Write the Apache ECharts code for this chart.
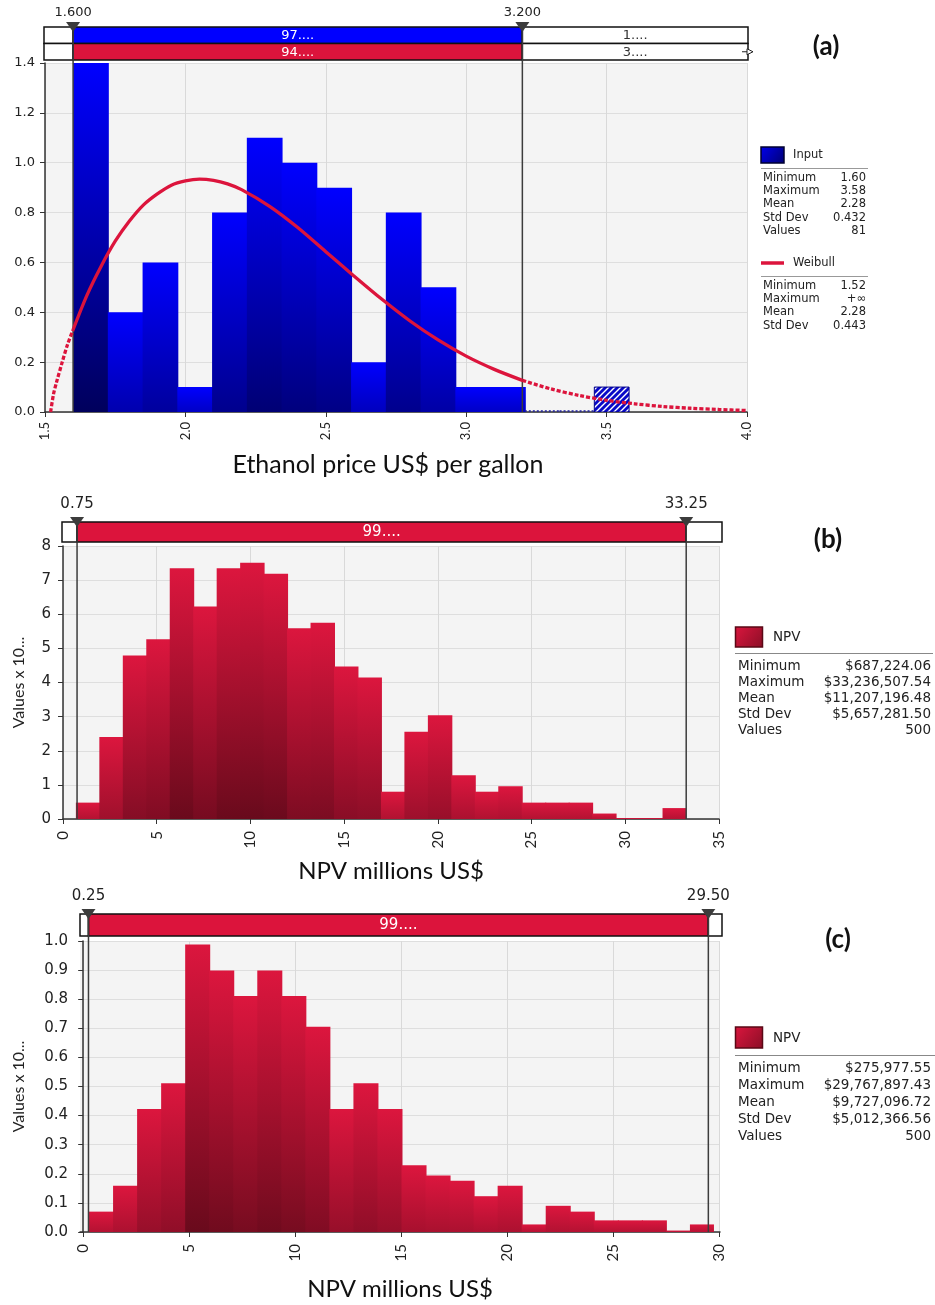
<!DOCTYPE html>
<html>
<head>
<meta charset="utf-8">
<style>html,body{margin:0;padding:0;background:#fff}#chart{width:935px;height:1305px}</style>
<script src="https://cdn.jsdelivr.net/npm/echarts@6.0.0/dist/echarts.min.js"></script>
</head>
<body>
<div id="chart"></div>
<script>
// ================= DATA =================
// Panel (a): ethanol price histogram (density) + Weibull fit
const priceTicks = [1.5, 2.0, 2.5, 3.0, 3.5, 4.0];
const priceBinStart = 1.6;
const priceBinWidth = 0.12375;
const priceDensity = [1.4, 0.4, 0.6, 0.1, 0.8, 1.1, 1.0, 0.9, 0.2, 0.8, 0.5, 0.1, 0.1, 0, 0, 0.1];
const weibullX = [1.52, 1.53, 1.54, 1.56, 1.58, 1.60, 1.65, 1.70, 1.75, 1.80, 1.85, 1.90, 1.95, 2.00, 2.05, 2.10, 2.15, 2.20, 2.30, 2.40, 2.50, 2.60, 2.70, 2.80, 2.90, 3.00, 3.10, 3.20, 3.30, 3.40, 3.50, 3.60, 3.70, 3.80, 3.90, 4.00];
const weibullY = [0, 0.07, 0.115, 0.195, 0.27, 0.33, 0.47, 0.585, 0.685, 0.765, 0.83, 0.875, 0.91, 0.927, 0.934, 0.929, 0.915, 0.892, 0.825, 0.74, 0.643, 0.546, 0.452, 0.365, 0.289, 0.224, 0.171, 0.127, 0.093, 0.067, 0.047, 0.033, 0.022, 0.015, 0.010, 0.006];
const priceSplits = [1.6, 3.2];
const priceSplitLabels = ['1.600', '3.200'];
const priceInputPct = ['', '97....', '1....'];
const priceFitPct = ['', '94....', '3....'];
const inputStatLabels = ['Minimum', 'Maximum', 'Mean', 'Std Dev', 'Values'];
const inputStatValues = ['1.60', '3.58', '2.28', '0.432', '81'];
const weibullStatLabels = ['Minimum', 'Maximum', 'Mean', 'Std Dev'];
const weibullStatValues = ['1.52', '+\u221E', '2.28', '0.443'];

// Panel (b): NPV histogram
const npvBTicks = [0, 5, 10, 15, 20, 25, 30, 35];
const npvBBinStart = 0.687;
const npvBBinWidth = 1.252;
const npvBValues = [0.48, 2.40, 4.79, 5.27, 7.35, 6.23, 7.35, 7.51, 7.19, 5.59, 5.75, 4.47, 4.15, 0.80, 2.56, 3.04, 1.28, 0.80, 0.96, 0.48, 0.48, 0.48, 0.16, 0.03, 0.03, 0.32];
const npvBSplits = [0.75, 33.25];
const npvBSplitLabels = ['0.75', '33.25'];
const npvBPct = ['', '99....', ''];
const npvStatLabels = ['Minimum', 'Maximum', 'Mean', 'Std Dev', 'Values'];
const npvBStatValues = ['$687,224.06', '$33,236,507.54', '$11,207,196.48', '$5,657,281.50', '500'];

// Panel (c): NPV histogram
const npvCTicks = [0, 5, 10, 15, 20, 25, 30];
const npvCBinStart = 0.276;
const npvCBinWidth = 1.1342;
const npvCValues = [0.07, 0.159, 0.423, 0.511, 0.988, 0.899, 0.811, 0.899, 0.811, 0.705, 0.423, 0.511, 0.423, 0.229, 0.194, 0.176, 0.123, 0.159, 0.026, 0.09, 0.07, 0.04, 0.04, 0.04, 0.005, 0.026];
const npvCSplits = [0.25, 29.5];
const npvCSplitLabels = ['0.25', '29.50'];
const npvCPct = ['', '99....', ''];
const npvCStatValues = ['$275,977.55', '$29,767,897.43', '$9,727,096.72', '$5,012,366.56', '500'];

// ================= STYLE HELPERS =================
const VERD = '"DejaVu Sans", Verdana, sans-serif';
const CAL = 'Lato, "Open Sans", sans-serif';
const BLUE = '#0000ff', BLUE_DARK = '#00005c';
const RED = '#dc163e', RED_DARK = '#680a1c';

function hexToRgb(h) { h = h.replace('#', ''); return [0, 2, 4].map(i => parseInt(h.substr(i, 2), 16)); }
function mix(a, b, t) {
  const A = hexToRgb(a), B = hexToRgb(b);
  return 'rgb(' + A.map((v, i) => Math.round(v + (B[i] - v) * t)).join(',') + ')';
}
function barGradient(top, dark, frac) {
  return new echarts.graphic.LinearGradient(0, 0, 0, 1, [
    { offset: 0, color: top },
    { offset: 1, color: mix(top, dark, frac) }
  ]);
}
function hatchPattern() {
  const s = 6, c = document.createElement('canvas');
  c.width = s; c.height = s;
  const g = c.getContext('2d');
  g.fillStyle = '#0808c8'; g.fillRect(0, 0, s, s);
  g.strokeStyle = '#ffffff'; g.lineWidth = 1.4;
  g.beginPath();
  g.moveTo(0, s); g.lineTo(s, 0);
  g.moveTo(-1, 1); g.lineTo(1, -1);
  g.moveTo(s - 1, s + 1); g.lineTo(s + 1, s - 1);
  g.stroke();
  return { image: c, repeat: 'repeat' };
}
const HATCH = hatchPattern();

// histogram rendered through the axis scales
function histSeries(gi, start, width, values, top, dark, ymax, upperSplit) {
  return {
    type: 'custom', xAxisIndex: gi, yAxisIndex: gi, z: 3, silent: true, clip: true,
    data: values.map((v, i) => [start + i * width, start + (i + 1) * width, v]),
    encode: { x: [0, 1], y: 2 },
    renderItem(params, api) {
      const x0 = api.value(0), x1 = api.value(1), h = api.value(2);
      const p0 = api.coord([x0, 0]), p1 = api.coord([x1, h]);
      const beyond = x0 >= upperSplit;
      if (beyond && h === 0) {
        return { type: 'line', shape: { x1: p0[0], y1: p0[1] - 1, x2: p1[0], y2: p0[1] - 1 },
          style: { stroke: '#1c1ca0', lineWidth: 1.5, lineDash: [2, 2] } };
      }
      if (beyond) {
        return { type: 'rect', shape: { x: p0[0], y: p1[1], width: p1[0] - p0[0], height: p0[1] - p1[1] },
          style: { fill: HATCH, stroke: '#00008a', lineWidth: 1 } };
      }
      const last = params.dataIndex === values.length - 1;
      return { type: 'rect', shape: { x: p0[0], y: p1[1], width: p1[0] - p0[0] + (last ? 0 : 1), height: p0[1] - p1[1] },
        style: { fill: barGradient(top, dark, 0.3 + 0.7 * h / ymax) } };
    }
  };
}

// range bar above each plot (split markers + percentage rows)
function rangeSeries(gi, cfg) {
  return {
    type: 'custom', xAxisIndex: gi, yAxisIndex: gi, z: 10, silent: true, clip: false,
    data: [[cfg.splits[0], 0]],
    renderItem(params, api) {
      const cs = params.coordSys;
      const top = cs.y - cfg.gap - cfg.height;
      const bx0 = cs.x + cfg.pad[0], bx1 = cs.x + cs.width + cfg.pad[1];
      const sx = cfg.splits.map(v => api.coord([v, 0])[0]);
      const segs = [[bx0, sx[0]], [sx[0], sx[1]], [sx[1], bx1]];
      const rowH = cfg.height / cfg.rows.length;
      const ch = [];
      cfg.rows.forEach((row, r) => {
        const y = top + r * rowH;
        segs.forEach((s, k) => {
          ch.push({ type: 'rect', shape: { x: s[0], y: y, width: s[1] - s[0], height: rowH },
            style: { fill: k === 1 ? row.color : '#fff', stroke: '#111', lineWidth: 1.5 } });
          if (row.texts[k]) {
            ch.push({ type: 'text', x: (s[0] + s[1]) / 2, y: y + rowH / 2 + 0.5,
              style: { text: row.texts[k], fill: k === 1 ? '#fff' : '#333', font: cfg.font, align: 'center', verticalAlign: 'middle' } });
          }
        });
      });
      if (cfg.infMarker) {
        const y = top + rowH * 1.5, x = bx1;
        ch.push({ type: 'line', shape: { x1: x - 6, y1: y, x2: x, y2: y }, style: { stroke: '#222', lineWidth: 1 } });
        ch.push({ type: 'polygon', shape: { points: [[x - 1, y - 3], [x + 5, y], [x - 1, y + 3]] }, style: { fill: '#fff', stroke: '#222', lineWidth: 1 } });
      }
      sx.forEach((x, i) => {
        ch.push({ type: 'line', shape: { x1: x, y1: top, x2: x, y2: cs.y + cs.height }, style: { stroke: '#3c3c3c', lineWidth: 1.5 } });
        ch.push({ type: 'polygon', shape: { points: [[x - 7, top - 5], [x + 7, top - 5], [x, top + 5]] }, style: { fill: '#3c3c3c' } });
        ch.push({ type: 'text', x: x, y: top - cfg.labelGap,
          style: { text: cfg.labels[i], fill: '#222', font: cfg.font, align: 'center', verticalAlign: 'bottom' } });
      });
      return { type: 'group', children: ch };
    }
  };
}

function xAxisCfg(gi, min, max, opts) {
  const a = {
    type: 'value', gridIndex: gi, min: min, max: max,
    axisLine: { show: true, onZero: false, lineStyle: { color: '#333', width: 1.5 } },
    axisTick: { show: true, length: 5, lineStyle: { color: '#333' } },
    axisLabel: { rotate: 90, margin: opts.margin, color: '#222', fontFamily: CAL, fontSize: opts.fontSize, formatter: opts.fmt },
    splitLine: { show: true, lineStyle: { color: '#d9d9d9', width: 1 } },
    name: opts.name, nameLocation: 'middle', nameGap: opts.nameGap,
    nameTextStyle: { fontFamily: CAL, fontSize: opts.nameSize || 24, color: '#111', padding: opts.namePad || 0 }
  };
  if (opts.interval) a.interval = opts.interval;
  if (opts.custom) { a.axisTick.customValues = opts.custom; a.axisLabel.customValues = opts.custom; }
  return a;
}
function yAxisCfg(gi, max, interval, opts) {
  return {
    type: 'value', gridIndex: gi, min: 0, max: max, interval: interval,
    axisLine: { show: true, lineStyle: { color: '#333', width: 1.5 } },
    axisTick: { show: true, length: 5, lineStyle: { color: '#333' } },
    axisLabel: { margin: opts.margin, color: '#222', fontFamily: VERD, fontSize: opts.fontSize, formatter: opts.fmt },
    splitLine: { show: true, lineStyle: { color: '#dedede', width: 1 } },
    name: opts.name || '', nameLocation: 'middle', nameGap: opts.nameGap || 0,
    nameTextStyle: { fontFamily: CAL, fontSize: 16, color: '#222' }
  };
}

// ================= LEGEND GRAPHICS =================
function statBlock(x0, xr, y0, dy, labels, values, font) {
  const out = [];
  labels.forEach((l, i) => {
    out.push({ type: 'text', x: x0, y: y0 + i * dy, style: { text: l, font: font, fill: '#222', verticalAlign: 'middle' } });
    out.push({ type: 'text', x: xr, y: y0 + i * dy, style: { text: values[i], font: font, fill: '#222', align: 'right', verticalAlign: 'middle' } });
  });
  return out;
}
const fA = '11.5px ' + VERD, fB = '13.5px ' + VERD;
const graphics = [].concat(
  // (a) legend
  [{ type: 'rect', shape: { x: 761, y: 147, width: 23, height: 16 },
     style: { fill: new echarts.graphic.LinearGradient(0, 0, 1, 1, [{ offset: 0, color: '#0000ee' }, { offset: 1, color: '#000070' }]), stroke: '#000030', lineWidth: 1.5 } },
   { type: 'text', x: 793, y: 155, style: { text: 'Input', font: fA, fill: '#222', verticalAlign: 'middle' } },
   { type: 'line', shape: { x1: 761, y1: 168.5, x2: 868, y2: 168.5 }, style: { stroke: '#999', lineWidth: 1 } }],
  statBlock(763, 866, 178, 13.2, inputStatLabels, inputStatValues, fA),
  [{ type: 'line', shape: { x1: 761, y1: 263, x2: 784, y2: 263 }, style: { stroke: '#dc143c', lineWidth: 3.5 } },
   { type: 'text', x: 793, y: 263, style: { text: 'Weibull', font: fA, fill: '#222', verticalAlign: 'middle' } },
   { type: 'line', shape: { x1: 761, y1: 276.5, x2: 868, y2: 276.5 }, style: { stroke: '#999', lineWidth: 1 } }],
  statBlock(763, 866, 286, 13.2, weibullStatLabels, weibullStatValues, fA),
  // (b) legend
  [{ type: 'rect', shape: { x: 735.5, y: 627, width: 27, height: 20 },
     style: { fill: new echarts.graphic.LinearGradient(0, 0, 1, 1, [{ offset: 0, color: '#dc163e' }, { offset: 1, color: '#8a0e26' }]), stroke: '#5a0816', lineWidth: 1.5 } },
   { type: 'text', x: 773, y: 637, style: { text: 'NPV', font: fB, fill: '#222', verticalAlign: 'middle' } },
   { type: 'line', shape: { x1: 735, y1: 653.5, x2: 933, y2: 653.5 }, style: { stroke: '#888', lineWidth: 1 } }],
  statBlock(738, 931, 666, 16, npvStatLabels, npvBStatValues, fB),
  // (c) legend
  [{ type: 'rect', shape: { x: 735.5, y: 1027, width: 27, height: 21 },
     style: { fill: new echarts.graphic.LinearGradient(0, 0, 1, 1, [{ offset: 0, color: '#dc163e' }, { offset: 1, color: '#8a0e26' }]), stroke: '#5a0816', lineWidth: 1.5 } },
   { type: 'text', x: 773, y: 1038, style: { text: 'NPV', font: fB, fill: '#222', verticalAlign: 'middle' } },
   { type: 'line', shape: { x1: 735, y1: 1055.5, x2: 935, y2: 1055.5 }, style: { stroke: '#888', lineWidth: 1 } }],
  statBlock(738, 931, 1068, 17, npvStatLabels, npvCStatValues, fB),
  // panel tags
  [{ type: 'text', x: 826, y: 47, style: { text: '(a)', font: 'bold 26px ' + CAL, fill: '#111', align: 'center', verticalAlign: 'middle' } },
   { type: 'text', x: 828, y: 540, style: { text: '(b)', font: 'bold 26px ' + CAL, fill: '#111', align: 'center', verticalAlign: 'middle' } },
   { type: 'text', x: 838, y: 940, style: { text: '(c)', font: 'bold 26px ' + CAL, fill: '#111', align: 'center', verticalAlign: 'middle' } }]
);

// ================= CHART =================
const weibullPts = weibullX.map((x, i) => [x, weibullY[i]]);
const wLeft = weibullPts.filter(p => p[0] <= priceSplits[0]);
const wMid = weibullPts.filter(p => p[0] >= priceSplits[0] && p[0] <= priceSplits[1]);
const wRight = weibullPts.filter(p => p[0] >= priceSplits[1]);
const curveStyle = (dashed) => ({
  type: 'line', xAxisIndex: 0, yAxisIndex: 0, showSymbol: false, smooth: 0.3, z: 12, silent: true,
  lineStyle: { color: '#dc143c', width: 3.3, type: dashed ? [4, 2] : 'solid' }
});

const chart = echarts.init(document.getElementById('chart'), null, { renderer: 'canvas' });
chart.setOption({
  animation: false,
  backgroundColor: '#fff',
  grid: [
    { left: 45, top: 63, width: 702, height: 349, show: true, backgroundColor: '#f4f4f4', borderWidth: 0 },
    { left: 63, top: 546, width: 656, height: 273, show: true, backgroundColor: '#f4f4f4', borderWidth: 0 },
    { left: 80, top: 941, width: 640, height: 291, show: true, backgroundColor: '#f4f4f4', borderWidth: 0 }
  ],
  xAxis: [
    xAxisCfg(0, priceTicks[0], priceTicks[priceTicks.length - 1], { interval: 0.5, margin: 10, fontSize: 13, fmt: v => v.toFixed(1), name: 'Ethanol price US$ per gallon', nameGap: 40, nameSize: 25, namePad: [0, 16, 0, 0] }),
    xAxisCfg(1, npvBTicks[0], npvBTicks[npvBTicks.length - 1], { interval: 5, margin: 12, fontSize: 15, fmt: v => String(v), name: 'NPV millions US$', nameGap: 40 }),
    xAxisCfg(2, -0.15, 30.05, { custom: npvCTicks, margin: 12, fontSize: 15, fmt: v => String(Math.round(v)), name: 'NPV millions US$', nameGap: 45 })
  ],
  yAxis: [
    yAxisCfg(0, 1.4, 0.2, { margin: 10, fontSize: 13, fmt: v => v.toFixed(1) }),
    yAxisCfg(1, 8, 1, { margin: 12, fontSize: 15, fmt: v => String(v), name: 'Values x 10...', nameGap: 36 }),
    yAxisCfg(2, 1.0, 0.1, { margin: 12, fontSize: 15, fmt: v => v.toFixed(1), name: 'Values x 10...', nameGap: 53 })
  ],
  series: [
    histSeries(0, priceBinStart, priceBinWidth, priceDensity, BLUE, BLUE_DARK, 1.4, priceSplits[1]),
    Object.assign(curveStyle(true), { data: wLeft }),
    Object.assign(curveStyle(false), { data: wMid }),
    Object.assign(curveStyle(true), { data: wRight }),
    rangeSeries(0, { splits: priceSplits, labels: priceSplitLabels, gap: 3, height: 33, pad: [-1, 1], labelGap: 8, font: '13px ' + VERD, infMarker: true,
      rows: [{ color: '#0000ff', texts: priceInputPct }, { color: '#dc143c', texts: priceFitPct }] }),
    histSeries(1, npvBBinStart, npvBBinWidth, npvBValues, RED, RED_DARK, 7.5, npvBSplits[1]),
    rangeSeries(1, { splits: npvBSplits, labels: npvBSplitLabels, gap: 4, height: 20, pad: [-1, 3], labelGap: 10, font: '15px ' + VERD,
      rows: [{ color: '#dc143c', texts: npvBPct }] }),
    histSeries(2, npvCBinStart, npvCBinWidth, npvCValues, RED, RED_DARK, 1.0, npvCSplits[1]),
    rangeSeries(2, { splits: npvCSplits, labels: npvCSplitLabels, gap: 5, height: 22, pad: [0, 2], labelGap: 10, font: '15px ' + VERD,
      rows: [{ color: '#dc143c', texts: npvCPct }] })
  ],
  graphic: graphics
});
</script>
</body>
</html>
